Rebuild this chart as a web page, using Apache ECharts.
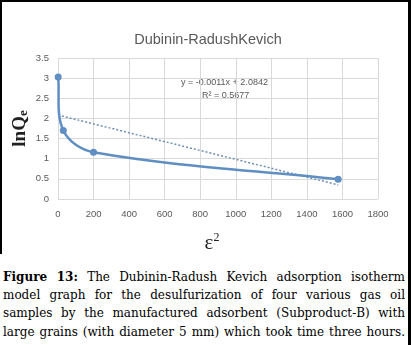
<!DOCTYPE html>
<html>
<head>
<meta charset="utf-8">
<script src="https://cdn.jsdelivr.net/npm/echarts@6/dist/echarts.min.js"></script>
<style>
  html, body { margin: 0; padding: 0; background: #fff; }
  #page { position: relative; width: 411px; height: 345px; overflow: hidden; }
  #chart { position: absolute; left: 0; top: 0; width: 411px; height: 254px; }
  .bar { position: absolute; background: #000; }
  #caption { position: absolute; left: 3px; top: 268px; width: 402px;
    font-family: "DejaVu Serif", serif; font-size: 12px; color: #000; }
  #caption div { line-height: 18.2px; height: 18.2px; text-align: justify; text-align-last: justify; white-space: nowrap; }
  #caption b { font-weight: bold; }
</style>
</head>
<body>
<div id="page">
  <div id="chart"></div>
  <div class="bar" style="left:0;top:0;width:411px;height:2px"></div>
  <div class="bar" style="left:0;top:0;width:2px;height:254px"></div>
  <div class="bar" style="left:408px;top:0;width:3px;height:345px"></div>
  <div id="caption">
    <div><b>Figure 13:</b> The Dubinin-Radush Kevich adsorption isotherm</div>
    <div>model graph for the desulfurization of four various gas oil</div>
    <div>samples by the manufactured adsorbent (Subproduct-B) with</div>
    <div>large grains (with diameter 5 mm) which took time three hours.</div>
  </div>
</div>
<script>
// measured points (epsilon^2 vs lnQe)
const eps2 = [1, 30, 200, 1576];
const lnQe = [3.03, 1.70, 1.16, 0.49];

// linear trendline end points: y = -0.0011x + 2.0842
const trendX = [0, 1576];
const trendY = [2.084, 0.35];

const xTicks = [0, 200, 400, 600, 800, 1000, 1200, 1400, 1600, 1800];
const yTicks = [0, 0.5, 1, 1.5, 2, 2.5, 3, 3.5];

const chart = echarts.init(document.getElementById("chart"));

const labelColor = "#595959";
const gridColor = "#d9d9d9";
const lineColor = "#5f8fc2";

// excel-like smoothed line: bezier segments, tangent from neighbours
function smoothCurve(params, api) {
  if (params.dataIndex !== 0) return null;
  const pts = eps2.map((x, i) => api.coord([x, lnQe[i]]));
  const n = pts.length;
  const tan = pts.map((p, i) => {
    const a = pts[Math.max(i - 1, 0)];
    const b = pts[Math.min(i + 1, n - 1)];
    const dx = b[0] - a[0], dy = b[1] - a[1];
    const len = Math.hypot(dx, dy) || 1;
    return [dx / len, dy / len];
  });
  const children = [];
  for (let i = 0; i < n - 1; i++) {
    const p = pts[i], q = pts[i + 1];
    const d = Math.hypot(q[0] - p[0], q[1] - p[1]) / 3;
    children.push({
      type: "bezierCurve",
      shape: {
        x1: p[0], y1: p[1], x2: q[0], y2: q[1],
        cpx1: p[0] + tan[i][0] * d, cpy1: p[1] + tan[i][1] * d,
        cpx2: q[0] - tan[i + 1][0] * d, cpy2: q[1] - tan[i + 1][1] * d,
      },
      style: { stroke: lineColor, lineWidth: 2.5, fill: null },
    });
  }
  return { type: "group", children };
}

chart.setOption({
  animation: false,
  backgroundColor: "#fff",
  title: {
    text: "Dubinin-RadushKevich",
    left: 203,
    top: 27,
    textAlign: "center",
    textStyle: { fontFamily: "Liberation Sans", fontSize: 14.5, fontWeight: "normal", color: labelColor },
  },
  grid: { left: 58, right: 33, top: 58, bottom: 55, outerBoundsMode: "none" },
  xAxis: {
    type: "value",
    min: xTicks[0],
    max: xTicks[xTicks.length - 1],
    interval: 200,
    axisLine: { show: false },
    axisTick: { show: false },
    axisLabel: { color: labelColor, fontSize: 9.5, fontFamily: "Liberation Sans", margin: 10, formatter: (v) => String(v) },
    splitLine: { show: true, lineStyle: { color: gridColor, width: 1 } },
    name: "ε{s|2}",
    nameLocation: "middle",
    nameGap: 33,
    nameMoveOverlap: false,
    nameTextStyle: {
      fontFamily: "Liberation Serif", fontSize: 21, color: "#222", padding: [0, 12, 0, 0],
      rich: { s: { fontFamily: "Liberation Serif", fontSize: 12, color: "#222", verticalAlign: "top", padding: [0, 0, 10, 0] } },
    },
  },
  yAxis: {
    type: "value",
    min: yTicks[0],
    max: yTicks[yTicks.length - 1],
    interval: 0.5,
    axisLine: { show: false },
    axisTick: { show: false },
    axisLabel: { color: labelColor, fontSize: 9.5, fontFamily: "Liberation Sans", margin: 9 },
    splitLine: { show: true, lineStyle: { color: gridColor, width: 1 } },
    name: "lnQ{e|e}",
    nameLocation: "middle",
    nameGap: 28,
    nameMoveOverlap: false,
    nameTextStyle: {
      fontFamily: "Liberation Serif", fontSize: 19, fontWeight: "bold", color: "#222",
      rich: { e: { fontFamily: "Liberation Serif", fontSize: 13, fontWeight: "bold", color: "#222", padding: [7, 0, 0, 0] } },
    },
  },
  graphic: [
    {
      type: "text",
      left: 181,
      top: 78,
      style: { text: "y = -0.0011x + 2.0842", fontFamily: "Liberation Sans", fontSize: 9, fill: labelColor },
    },
    {
      type: "text",
      left: 202,
      top: 91,
      style: { text: "R² = 0.5677", fontFamily: "Liberation Sans", fontSize: 9, fill: labelColor },
    },
  ],
  series: [
    {
      name: "Trend",
      type: "line",
      data: trendX.map((x, i) => [x, trendY[i]]),
      showSymbol: false,
      lineStyle: { color: "#6f8fb3", width: 1.5, type: [2, 2] },
      z: 1,
    },
    {
      name: "curve",
      type: "custom",
      renderItem: smoothCurve,
      data: eps2.map((x, i) => [x, lnQe[i]]),
      z: 2,
    },
    {
      name: "lnQe",
      type: "line",
      data: eps2.map((x, i) => [x, lnQe[i]]),
      symbol: "circle",
      symbolSize: 7,
      itemStyle: { color: lineColor },
      lineStyle: { width: 0, opacity: 0 },
      z: 3,
    },
  ],
});
</script>
</body>
</html>
